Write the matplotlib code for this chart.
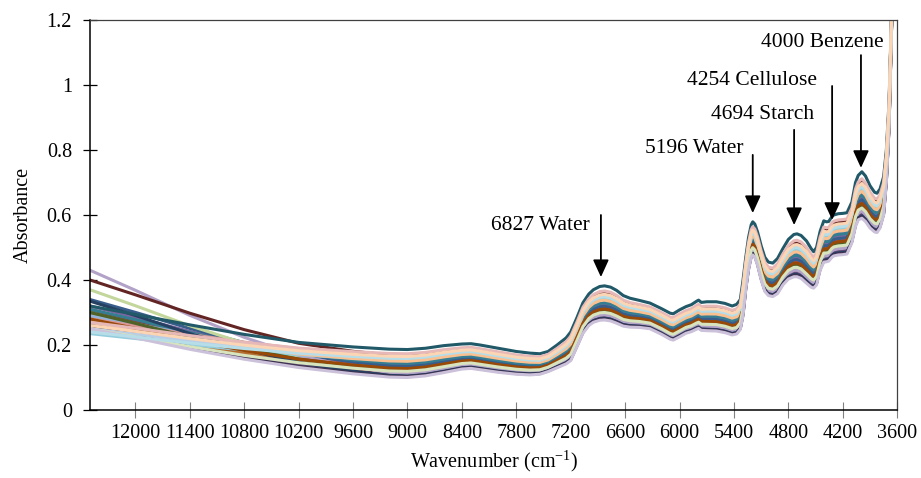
import numpy as np
import matplotlib
matplotlib.use('Agg')
import matplotlib.pyplot as plt
from matplotlib.ticker import FuncFormatter

plt.rcParams['font.family'] = ['Liberation Serif', 'DejaVu Serif']

# wavenumber knots (cm-1) and the envelope of the spectra
wn = [12500, 12000, 11400, 10800, 10200, 9600, 9200, 9000, 8800, 8600,
      8400, 8300, 8200, 8000, 7800, 7650, 7540, 7450, 7350, 7250,
      7200, 7130, 7065, 7000, 6950, 6880, 6827, 6760, 6694, 6620,
      6547, 6440, 6326, 6200, 6105, 6070, 6000, 5930, 5870, 5810,
      5790, 5760, 5700, 5594, 5500, 5420, 5370, 5330, 5300, 5270,
      5240, 5210, 5193, 5170, 5140, 5100, 5060, 5020, 4972, 4920,
      4860, 4800, 4740, 4705, 4660, 4600, 4550, 4522, 4490, 4450,
      4410, 4380, 4356, 4320, 4300, 4250, 4200, 4154, 4100, 4060,
      4030, 3990, 3950, 3900, 3850, 3823, 3790, 3750, 3720, 3690,
      3665, 3640]
upper = [0.200, 0.198, 0.196, 0.193, 0.190, 0.188, 0.186, 0.186, 0.190, 0.198,
         0.203, 0.204, 0.200, 0.190, 0.180, 0.175, 0.173, 0.180, 0.200, 0.222,
         0.240, 0.285, 0.330, 0.357, 0.370, 0.380, 0.382, 0.378, 0.368, 0.352,
         0.344, 0.337, 0.329, 0.312, 0.298, 0.296, 0.308, 0.318, 0.324, 0.335,
         0.338, 0.331, 0.333, 0.333, 0.328, 0.320, 0.325, 0.340, 0.400, 0.470,
         0.530, 0.570, 0.579, 0.572, 0.548, 0.505, 0.470, 0.455, 0.452, 0.466,
         0.497, 0.525, 0.540, 0.542, 0.537, 0.520, 0.497, 0.487, 0.500, 0.550,
         0.582, 0.579, 0.580, 0.595, 0.600, 0.604, 0.605, 0.607, 0.640, 0.700,
         0.722, 0.733, 0.720, 0.690, 0.670, 0.667, 0.680, 0.718, 0.800, 0.950,
         1.200, 1.450]
lower = [0.125, 0.122, 0.118, 0.115, 0.112, 0.105, 0.100, 0.100, 0.105, 0.115,
         0.126, 0.128, 0.124, 0.116, 0.110, 0.108, 0.110, 0.118, 0.130, 0.142,
         0.152, 0.195, 0.236, 0.260, 0.270, 0.276, 0.277, 0.274, 0.267, 0.258,
         0.255, 0.254, 0.250, 0.233, 0.218, 0.215, 0.225, 0.236, 0.241, 0.249,
         0.251, 0.245, 0.244, 0.243, 0.238, 0.231, 0.234, 0.248, 0.290, 0.370,
         0.430, 0.470, 0.477, 0.470, 0.445, 0.400, 0.365, 0.352, 0.349, 0.358,
         0.385, 0.403, 0.410, 0.410, 0.405, 0.390, 0.378, 0.375, 0.385, 0.430,
         0.455, 0.456, 0.458, 0.470, 0.474, 0.477, 0.478, 0.480, 0.515, 0.565,
         0.585, 0.590, 0.580, 0.560, 0.548, 0.546, 0.560, 0.600, 0.700, 0.870,
         1.150, 1.400]
# how much of the high-wavenumber (scatter) offset is left at each knot
left_fade = [1.0, 0.8, 0.55, 0.33, 0.15, 0.05, 0.01] + [0.0] * (len(wn) - 7)

# one entry per sample: position inside the envelope on the right, value at 12500
level = [0.55, 0.35, 0.20, 0.45, 0.60, 0.70, 0.40, 0.12, 0.25, 0.08,
         0.50, 0.30, 0.65, 0.80, 0.18, 0.15, 0.62, 0.58, 0.05, 0.78,
         0.28, 0.03, 1.00, 0.32, 0.72, 0.85, 0.22, 0.00, 0.68, 0.75]
start = [0.300, 0.290, 0.270, 0.320, 0.240, 0.280, 0.340, 0.310, 0.300, 0.270,
         0.310, 0.260, 0.290, 0.280, 0.370, 0.430, 0.235, 0.270, 0.335, 0.400,
         0.300, 0.260, 0.320, 0.280, 0.250, 0.270, 0.250, 0.250, 0.240, 0.260]
colors = ['#4F81BD', '#C0504D', '#9BBB59', '#8064A2', '#4BACC6', '#F79646',
          '#385D8A', '#8C3836', '#71893F', '#5C4776', '#357D91', '#B66D31',
          '#95B3D7', '#D99694', '#C3D69B', '#B3A2C7', '#93CDDD', '#FAC090',
          '#254061', '#632523', '#4F6228', '#3F3151', '#215968', '#984807',
          '#B9CDE5', '#E6B9B8', '#D7E4BD', '#CCC1DA', '#B7DEE8', '#FCD5B5']

# peak labels: text, text anchor (wn, abs), arrow from, arrow tip
notes = [('6827 Water',     (6989, 0.569), (6867, 0.600), (6867, 0.409)),
         ('5196 Water',     (5300, 0.806), (5193, 0.785), (5193, 0.606)),
         ('4694 Starch',    (4516, 0.908), (4737, 0.862), (4737, 0.569)),
         ('4254 Cellulose', (4483, 1.015), (4318, 0.997), (4318, 0.585)),
         ('4000 Benzene',   (3755, 1.132), (4000, 1.092), (4000, 0.745))]

x = np.array(wn, dtype=float)
up = np.array(upper)
lo = np.array(lower)
fade = np.array(left_fade)

fig = plt.figure(figsize=(9.21, 4.78), dpi=100)
ax = fig.add_axes([0.0977, 0.1423, 0.8765, 0.8158])

for r, s, c in zip(level, start, colors):
    y = lo + r * (up - lo)
    y = y + (s - y[0]) * fade
    ax.plot(x, y, color=c, lw=2.2, solid_joinstyle='round')

for txt, tpos, a0, a1 in notes:
    ax.text(tpos[0], tpos[1], txt, ha='right', va='center', fontsize=15.5)
    ax.annotate('', xy=a1, xytext=a0,
                arrowprops=dict(arrowstyle='-|>,head_length=0.7,head_width=0.32',
                                color='black', lw=1.3, mutation_scale=15,
                                shrinkA=0, shrinkB=0))

ax.set_xlim(12500, 3600)
ax.set_ylim(0, 1.2)
ax.set_xticks(np.arange(12000, 3599, -600))
ax.set_yticks(np.arange(0, 1.21, 0.2))
ax.yaxis.set_major_formatter(FuncFormatter(lambda v, p: '%g' % round(v, 1)))
ax.tick_params(axis='x', direction='inout', length=12, width=0.8,
               color='0.5', labelsize=14.5, pad=4)
ax.tick_params(axis='y', direction='inout', length=10, width=0.9,
               color='black', labelsize=14.5, pad=8)
for side in ['left', 'bottom']:
    ax.spines[side].set_linewidth(1.1)
    ax.spines[side].set_color('black')
for side in ['top', 'right']:
    ax.spines[side].set_linewidth(0.9)
    ax.spines[side].set_color('0.25')

ax.set_xlabel('Wavenumber (cm$^{\\mathregular{-1}}$)', fontsize=14.5, labelpad=4)
ax.set_ylabel('Absorbance', fontsize=14.5, labelpad=10)

plt.savefig('out.png', dpi=100)
